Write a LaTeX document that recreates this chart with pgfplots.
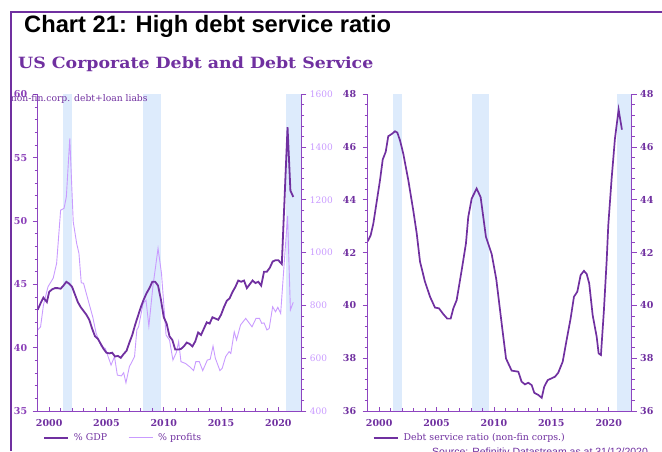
\documentclass[border=0pt]{standalone}
\usepackage{fontspec}
\setmainfont{DejaVu Serif}
\newfontfamily\arialfont{Liberation Sans}
\usepackage{pgfplots}
\pgfplotsset{compat=1.18}
\definecolor{dpurple}{HTML}{7030A0}
\definecolor{mpurple}{HTML}{8A3FB8}
\definecolor{lpurple}{HTML}{C99BFF}
\definecolor{axpurple}{HTML}{8E44C0}
\definecolor{band}{HTML}{DDEBFC}
\newcommand{\tkfont}{\fontsize{9.5}{11}\selectfont}
\pgfplotsset{
 base/.style={
  scale only axis, width=263.6pt, height=316.7pt,
  xmin=1999, xmax=2022,
  axis line style={axpurple, line width=0.9pt},
  tick style={axpurple, line width=0.8pt},
  major tick length=5pt, minor tick length=3pt,
  tick align=outside,
  major x tick style={yshift=4pt},
  minor x tick style={yshift=3pt},
  /pgf/number format/assume math mode=true,
  /pgf/number format/1000 sep={},
  xtick={2000,2005,...,2020}, minor x tick num=4,
  xticklabel style={font=\tkfont\bfseries, text=dpurple},
  legend style={draw=none, fill=none, inner sep=0pt, legend columns=-1,
    font=\fontsize{9.4}{11}\selectfont, text=dpurple,
    nodes={inner sep=0pt},
    /tikz/every odd column/.append style={column sep=5pt},
    /tikz/every even column/.append style={column sep=21pt}},
  legend image code/.code={\draw[#1] (0pt,0pt) -- (24pt,0pt);},
 }
}
\begin{document}
\begin{tikzpicture}
\useasboundingbox (0pt,0pt) rectangle (662pt,451pt);
\draw[dpurple, line width=2pt] (11pt,0pt) -- (11pt,439pt) -- (662pt,439pt);
\node[anchor=base west, inner sep=0, font=\arialfont\bfseries\fontsize{23.7}{26}\selectfont] at (24pt,418pt) {Chart 21: High debt service ratio};
\node[anchor=base west, inner sep=0, text=dpurple, font=\bfseries\fontsize{15.5}{17}\selectfont] at (18pt,382.7pt) {\scalebox{1.12}[1]{US Corporate Debt and Debt Service}};

% Left panel, right axis: profits
\begin{axis}[base, at={(37.7pt,40pt)}, anchor=south west,
  axis y line*=right, axis x line=none, axis on top,
  ymin=400, ymax=1600, ytick={400,600,...,1600}, minor y tick num=4,
  yticklabel style={text=lpurple, font=\fontsize{9}{11}\selectfont}]
\addplot[draw=none, fill=band, forget plot] coordinates {(2001.25,400) (2001.95,400) (2001.95,1600) (2001.25,1600)} -- cycle;
\addplot[draw=none, fill=band, forget plot] coordinates {(2008.2,400) (2009.75,400) (2009.75,1600) (2008.2,1600)} -- cycle;
\addplot[draw=none, fill=band, forget plot] coordinates {(2020.7,400) (2022,400) (2022,1600) (2020.7,1600)} -- cycle;
\addplot[lpurple, line width=0.9pt] coordinates {
(1999.0,707) (1999.25,719) (1999.5,801) (1999.9,871) (2000.35,903) (2000.65,959)
(2001.0,1161) (2001.3,1168) (2001.5,1212) (2001.8,1433) (2002.1,1117) (2002.4,1035)
(2002.6,997) (2002.8,886) (2003.0,884) (2003.4,820) (2003.8,757) (2004.1,694)
(2004.55,644) (2004.9,637) (2005.4,574) (2005.7,606) (2005.95,536) (2006.3,533)
(2006.5,545) (2006.7,507) (2007.0,568) (2007.45,606) (2007.65,707) (2007.8,719)
(2008.2,808) (2008.45,820) (2008.7,722) (2009.05,871) (2009.5,1016) (2009.8,922)
(2010.2,688) (2010.5,669) (2010.8,593) (2011.1,622) (2011.3,663) (2011.5,587)
(2011.9,580) (2012.25,568) (2012.6,553) (2012.8,587) (2013.1,587) (2013.4,553)
(2013.8,593) (2014.05,596) (2014.3,646) (2014.5,600) (2014.9,553) (2015.1,562)
(2015.4,606) (2015.7,625) (2015.85,618) (2016.15,700) (2016.35,669) (2016.7,726)
(2017.15,751) (2017.7,719) (2018.05,751) (2018.35,751) (2018.55,732) (2018.75,734)
(2019.0,707) (2019.2,713) (2019.5,795) (2019.75,776) (2019.95,793) (2020.2,770)
(2020.8,1139) (2021.05,783) (2021.3,812)};
\end{axis}

% Left panel, left axis: % GDP
\begin{axis}[base, at={(37.7pt,40pt)}, anchor=south west,
  axis y line*=left, axis x line*=bottom,
  ymin=35, ymax=60, ytick={35,40,...,60}, minor y tick num=4,
  yticklabel style={text=mpurple, font=\tkfont\bfseries, xshift=-2pt},
  legend style={at={(axis description cs:0.0201,-0.0843)}, anchor=west}]
\addplot[dpurple, line width=1.8pt] coordinates {
(1999.0,43.0) (1999.25,43.5) (1999.5,43.95) (1999.8,43.6) (2000.0,44.4) (2000.25,44.6)
(2000.5,44.7) (2000.75,44.7) (2001.0,44.65) (2001.25,44.9) (2001.5,45.2) (2001.75,45.05)
(2002.0,44.8) (2002.25,44.2) (2002.5,43.6) (2002.75,43.2) (2003.0,42.9) (2003.25,42.6)
(2003.5,42.2) (2003.75,41.5) (2004.0,40.9) (2004.25,40.7) (2004.5,40.3) (2004.75,39.9)
(2005.0,39.6) (2005.25,39.55) (2005.5,39.6) (2005.75,39.3) (2006.0,39.35) (2006.25,39.2)
(2006.5,39.5) (2006.75,39.75) (2007.0,40.4) (2007.25,41.0) (2007.5,41.8) (2007.75,42.5)
(2008.0,43.2) (2008.25,43.8) (2008.5,44.3) (2008.75,44.7) (2009.0,45.2) (2009.25,45.2)
(2009.5,44.9) (2009.75,43.8) (2010.0,42.4) (2010.25,41.9) (2010.5,40.9) (2010.75,40.6)
(2011.0,39.85) (2011.25,39.85) (2011.5,39.9) (2011.75,40.1) (2012.0,40.4) (2012.25,40.3)
(2012.5,40.1) (2012.75,40.5) (2013.0,41.2) (2013.25,41.0) (2013.5,41.5) (2013.75,42.0)
(2014.0,41.9) (2014.25,42.4) (2014.5,42.3) (2014.75,42.2) (2015.0,42.6) (2015.25,43.2)
(2015.5,43.7) (2015.75,43.9) (2016.0,44.4) (2016.25,44.8) (2016.5,45.3) (2016.75,45.2)
(2017.0,45.3) (2017.25,44.7) (2017.5,45.0) (2017.75,45.3) (2018.0,45.1) (2018.25,45.2)
(2018.5,44.9) (2018.75,46.0) (2019.0,46.0) (2019.25,46.3) (2019.5,46.8) (2019.75,46.9)
(2020.0,46.9) (2020.3,46.6) (2020.8,57.4) (2021.05,52.4) (2021.3,51.9)};
\addlegendentry{\% GDP}
\addlegendimage{lpurple, line width=0.9pt}
\addlegendentry{\% profits}
\end{axis}

% Right panel
\begin{axis}[base, at={(367.7pt,40pt)}, anchor=south west, width=264pt,
  axis y line*=left, axis x line*=bottom, axis on top,
  ymin=36, ymax=48, ytick={36,38,...,48}, minor y tick num=4,
  yticklabel style={text=dpurple, font=\tkfont\bfseries, xshift=-3pt},
  legend style={at={(axis description cs:0.0189,-0.0843)}, anchor=west}]
\addplot[draw=none, fill=band, forget plot] coordinates {(2001.2,36) (2001.95,36) (2001.95,48) (2001.2,48)} -- cycle;
\addplot[draw=none, fill=band, forget plot] coordinates {(2008.05,36) (2009.6,36) (2009.6,48) (2008.05,48)} -- cycle;
\addplot[draw=none, fill=band, forget plot] coordinates {(2020.75,36) (2022,36) (2022,48) (2020.75,48)} -- cycle;
\addplot[dpurple, line width=1.7pt] coordinates {
(1999.0,42.43) (1999.26,42.66) (1999.49,43.1) (1999.78,43.92) (2000.07,44.74) (2000.31,45.53)
(2000.57,45.82) (2000.79,46.41) (2001.14,46.51) (2001.38,46.6) (2001.58,46.55) (2001.81,46.26)
(2002.1,45.75) (2002.54,44.74) (2002.97,43.6) (2003.27,42.73) (2003.56,41.65) (2003.99,40.9)
(2004.43,40.33) (2004.86,39.92) (2005.21,39.89) (2005.59,39.67) (2005.93,39.5) (2006.23,39.5)
(2006.46,39.89) (2006.75,40.2) (2007.19,41.34) (2007.56,42.35) (2007.76,43.35) (2008.06,44.05)
(2008.49,44.43) (2008.84,44.1) (2009.3,42.6) (2009.8,41.95) (2010.2,41.0) (2010.67,39.32)
(2011.05,37.99) (2011.54,37.53) (2012.12,37.49) (2012.41,37.11) (2012.7,37.01) (2012.99,37.07)
(2013.29,36.98) (2013.51,36.69) (2013.86,36.61) (2014.16,36.5) (2014.38,36.92) (2014.68,37.17)
(2015.03,37.24) (2015.32,37.3) (2015.6,37.45) (2015.99,37.87) (2016.33,38.69) (2016.68,39.51)
(2016.97,40.33) (2017.26,40.52) (2017.55,41.15) (2017.84,41.31) (2018.08,41.19) (2018.3,40.83)
(2018.6,39.63) (2018.95,38.81) (2019.12,38.18) (2019.32,38.12) (2019.58,39.82) (2019.82,41.7)
(2019.96,43.04) (2020.25,44.8) (2020.54,46.32) (2020.86,47.42) (2021.15,46.66)};
\addlegendentry{Debt service ratio (non-fin corps.)}
\end{axis}
\begin{axis}[base, at={(367.7pt,40pt)}, anchor=south west, width=264pt,
  axis y line*=right, axis x line=none,
  ymin=36, ymax=48, ytick={36,38,...,48}, minor y tick num=4,
  yticklabel style={text=dpurple, font=\tkfont\bfseries}]
\end{axis}

\node[anchor=base west, inner sep=0, text=dpurple, font=\fontsize{9.2}{10}\selectfont] at (10.7pt,349.3pt) {non-fin.corp. debt+loan liabs};
\node[anchor=base west, inner sep=0, text=dpurple, font=\arialfont\fontsize{10.5}{12}\selectfont] at (432pt,-4.5pt) {Source: Refinitiv Datastream as at 31/12/2020};
\end{tikzpicture}
\end{document}
